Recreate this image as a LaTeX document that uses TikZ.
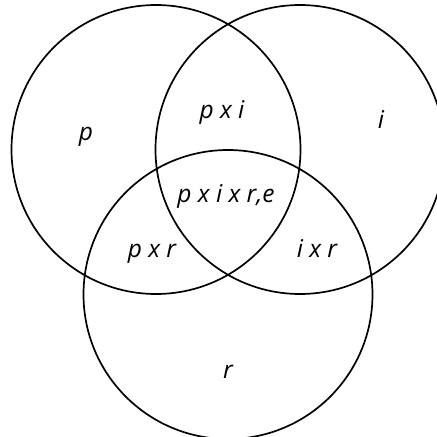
\documentclass[tikz,border=0pt]{standalone}
\usepackage{fontspec}
\setmainfont{Open Sans}
\begin{document}
\begin{tikzpicture}[x=1pt,y=-1pt,
  setc/.style={draw=black,line width=1.7pt},
  lbl/.style={font=\fontsize{24.5}{28}\selectfont\itshape,inner sep=0pt,anchor=base}]
\useasboundingbox (0,0) rectangle (437,437);
\begin{scope}
\clip (0,0) rectangle (437,437);
\draw[setc] (156,149.5) circle[radius=144.5];
\draw[setc] (300,149.5) circle[radius=144.5];
\draw[setc] (228,294.5) circle[radius=144.5];
\end{scope}
\node[lbl] (p) at (86,140) {p};
\node[lbl] (pi) at (222,118.5) {p x i};
\node[lbl] (i) at (381,128) {i};
\node[lbl] (pir) at (226,202) {p x i x r,e};
\node[lbl] (pr) at (152,257.5) {p x r};
\node[lbl] (ir) at (317,257.5) {i x r};
\node[lbl] (r) at (228,378) {r};
\end{tikzpicture}
\end{document}
